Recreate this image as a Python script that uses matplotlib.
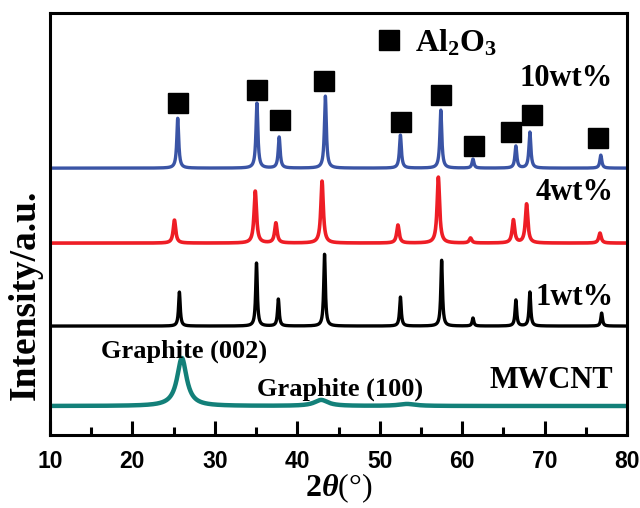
import numpy as np
import matplotlib
matplotlib.use("Agg")
import matplotlib.pyplot as plt

plt.rcParams['mathtext.fontset'] = 'custom'
plt.rcParams['mathtext.rm'] = 'Liberation Serif'
plt.rcParams['mathtext.it'] = 'Liberation Serif:italic:bold'
plt.rcParams['mathtext.bf'] = 'Liberation Serif:bold'

# Peak positions (2theta) and heights
pos_10 = [25.5, 35.1, 37.8, 43.4, 52.5, 57.4, 61.3, 66.5, 68.2, 76.8]
h_10 = [50, 65, 31, 72, 33, 58, 9, 22, 36, 13]
pos_4 = [25.1, 34.9, 37.4, 43.0, 52.2, 57.1, 61.0, 66.2, 67.8, 76.7]
h_4 = [23, 52, 20, 62, 18, 66, 5, 23, 39, 10]
pos_1 = [25.7, 35.05, 37.7, 43.3, 52.5, 57.5, 61.3, 66.5, 68.2, 76.9]
h_1 = [34, 63, 27, 72, 29, 66, 8, 26, 34, 13]
pos_cnt = [26.0, 42.9, 53.3]
h_cnt = [48, 6, 2]
w_cnt = [0.7, 1.0, 1.2]

# baselines of the stacked patterns
base_10, base_4, base_1, base_cnt = 267, 192, 109, 29

# Al2O3 marker positions (x, y)
sq_x = [25.5, 35.1, 37.9, 43.2, 52.6, 57.4, 61.4, 65.9, 68.4, 76.5]
sq_y = [332, 345, 315, 354, 313, 340, 289, 303, 320, 297]

x = np.linspace(10, 80, 4000)


def pattern(pos, hts, widths, base):
    y = np.full_like(x, base, dtype=float)
    for c, h, w in zip(pos, hts, widths):
        y += h / (1 + ((x - c) / w) ** 2)
    return y


fig = plt.figure(figsize=(6.4, 5.08), dpi=100)
ax = fig.add_axes([0.078, 0.1437, 0.902, 0.8303])

ax.plot(x, pattern(pos_10, h_10, [0.14] * 10, base_10), color='#3a54a5', lw=2.4)
ax.plot(x, pattern(pos_4, h_4, [0.18] * 10, base_4), color='#ee1d25', lw=2.6)
ax.plot(x, pattern(pos_1, h_1, [0.12] * 10, base_1), color='black', lw=2.4)
ax.plot(x, pattern(pos_cnt, h_cnt, w_cnt, base_cnt), color='#138079', lw=3.2)

ax.plot(sq_x, sq_y, 's', color='black', ms=15, ls='none')
ax.plot([51.1], [395], 's', color='black', ms=15)
ax.text(54.3, 392, r'$\mathbf{Al_2O_3}$', fontsize=23, va='center', ha='left')

serif = dict(family='Liberation Serif', weight='bold', fontsize=22)
ax.text(78.3, 357, '10wt%', ha='right', va='center', **serif)
ax.text(78.3, 243, '4wt%', ha='right', va='center', **serif)
ax.text(78.3, 138, '1wt%', ha='right', va='center', **serif)
ax.text(78.3, 55, 'MWCNT', ha='right', va='center', **serif)
ax.text(26.3, 84, 'Graphite (002)', ha='center', va='center',
        family='Liberation Serif', weight='bold', fontsize=19)
ax.text(45.2, 46, 'Graphite (100)', ha='center', va='center',
        family='Liberation Serif', weight='bold', fontsize=19)

ax.set_xlim(10, 80)
ax.set_ylim(0, 422)
ax.set_xticks(np.arange(10, 81, 10))
ax.set_xticks(np.arange(15, 80, 10), minor=True)
ax.set_yticks([])
ax.tick_params(axis='x', which='both', direction='in', width=2.2, top=False)
ax.tick_params(axis='x', which='major', length=10, pad=11)
ax.tick_params(axis='x', which='minor', length=6)
for lab in ax.get_xticklabels():
    lab.set_family('Liberation Sans')
    lab.set_weight('bold')
    lab.set_fontsize(16.5)
for sp in ax.spines.values():
    sp.set_linewidth(2.2)

ax.set_xlabel(r'$\mathbf{2}\mathit{\theta}$(°)', family='Liberation Serif',
              fontsize=23, labelpad=-1)
fig.text(0.039, 0.42, 'Intensity/a.u.', rotation=90, ha='center', va='center',
         family='Liberation Serif', weight='bold', fontsize=27)

fig.savefig('out.png', dpi=100)
